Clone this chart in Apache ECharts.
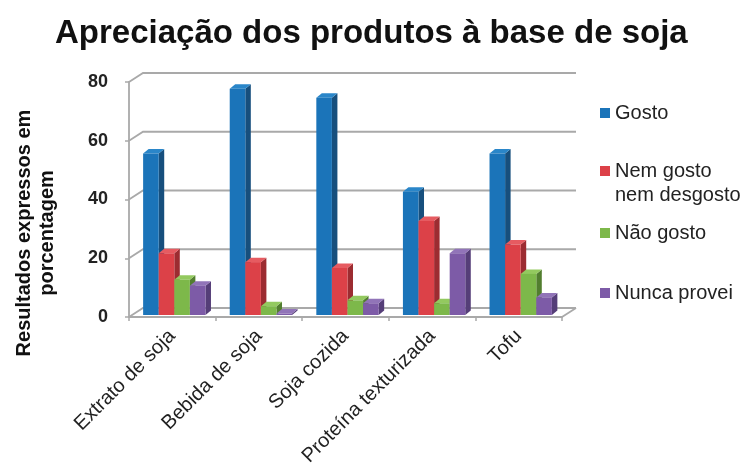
<!DOCTYPE html>
<html>
<head>
<meta charset="utf-8">
<script src="https://cdn.jsdelivr.net/npm/echarts@6/dist/echarts.min.js"></script>
<style>
  html, body { margin: 0; padding: 0; background: #fff; }
  #chart { width: 750px; height: 474px; }
</style>
</head>
<body>
<div id="chart"></div>
<script>
// Survey answers per soy product (percent of respondents)
const categories = ['Extrato de soja', 'Bebida de soja', 'Soja cozida', 'Proteína texturizada', 'Tofu'];
const seriesNames = ['Gosto', 'Nem gosto nem desgosto', 'Não gosto', 'Nunca provei'];
const gosto = [55, 77, 74, 42, 55];
const nemGosto = [21, 18, 16, 32, 24];
const naoGosto = [12, 3, 5, 4, 14];
const nuncaProvei = [10, 0.5, 4, 21, 6];
const yTicks = { min: 0, max: 80, interval: 20 };
const gridValues = [0, 20, 40, 60, 80];

const values = [gosto, nemGosto, naoGosto, nuncaProvei];

// Face colours for the prism-like columns: front, right side, top
const palette = [
  { front: '#1b74b9', side: '#174f7d', top: '#2a86c9' },
  { front: '#dc4148', side: '#9c2c31', top: '#e65b61' },
  { front: '#7db84a', side: '#527e2f', top: '#93c95f' },
  { front: '#7d5ba7', side: '#553e78', top: '#9174b8' }
];

// Pseudo-3D geometry (pixels)
const WALL_DX = 14, WALL_DY = 9;    // offset of the back wall
const BAR_DX = 5.5, BAR_DY = 4.5;   // column depth
const BAR_SHIFT_X = 2, BAR_SHIFT_Y = -2;
const BAR_FRAC = 0.18;              // column width as a share of the category band
const GRID_COLOR = '#a9a9a9';

function columnRenderer(si) {
  return function (params, api) {
    const cat = api.value(0);
    const val = api.value(1);
    const base = api.coord([cat, 0]);
    const top = api.coord([cat, val]);
    const band = api.size([1, 0])[0];
    const w = band * BAR_FRAC;
    const x0 = base[0] + (si - 2) * w + BAR_SHIFT_X;
    const x1 = x0 + w;
    const yb = base[1] + BAR_SHIFT_Y;
    const yt = top[1] + BAR_SHIFT_Y;
    const c = palette[si];
    return {
      type: 'group',
      children: [
        { type: 'polygon', shape: { points: [[x1, yt], [x1 + BAR_DX, yt - BAR_DY], [x1 + BAR_DX, yb - BAR_DY], [x1, yb]] },
          style: { fill: c.side } },
        { type: 'polygon', shape: { points: [[x0, yt], [x0 + BAR_DX, yt - BAR_DY], [x1 + BAR_DX, yt - BAR_DY], [x1, yt]] },
          style: { fill: c.top } },
        { type: 'rect', shape: { x: x0, y: yt, width: w, height: yb - yt },
          style: { fill: c.front } }
      ]
    };
  };
}

// Back wall / left wall / floor lines for each value level
function wallRenderer(params, api) {
  const cs = params.coordSys;
  const v = api.value(1);
  const y = api.coord([0, v])[1];
  const left = cs.x, right = cs.x + cs.width;
  const lines = [
    { type: 'polyline', shape: { points: [[left, y], [left + WALL_DX, y - WALL_DY], [right + WALL_DX, y - WALL_DY]] },
      style: { stroke: GRID_COLOR, lineWidth: 1.8, fill: null } }
  ];
  if (v === 0) {
    lines.push({ type: 'line', shape: { x1: right, y1: y, x2: right + WALL_DX, y2: y - WALL_DY },
      style: { stroke: GRID_COLOR, lineWidth: 1.8 } });
  }
  return { type: 'group', children: lines };
}

const series = [{
  type: 'custom',
  name: 'wall',
  silent: true,
  renderItem: wallRenderer,
  data: gridValues.map(v => [0, v]),
  encode: { x: 0, y: 1 },
  z: 1
}];
values.forEach((arr, si) => {
  series.push({
    type: 'custom',
    name: seriesNames[si],
    renderItem: columnRenderer(si),
    itemStyle: { color: palette[si].front },
    data: arr.map((v, i) => [i, v]),
    encode: { x: 0, y: 1 },
    z: 2
  });
});

// One legend block per entry so each sits where it belongs
const legendCentres = [113, 171, 233, 293];
const legendText = { fontSize: 20, color: '#222', fontFamily: 'Liberation Sans, Arial, sans-serif', lineHeight: 24 };
const legends = seriesNames.map((name, i) => ({
  data: [name],
  left: 600,
  top: legendCentres[i] - (i === 1 ? 36 : 12),
  icon: 'rect',
  itemWidth: 10,
  itemHeight: 10,
  itemGap: 0,
  padding: 0,
  selectedMode: false,
  textStyle: legendText,
  formatter: n => (n === 'Nem gosto nem desgosto' ? '\nNem gosto\nnem desgosto' : n)
}));

const chart = echarts.init(document.getElementById('chart'), null, { renderer: 'canvas' });
chart.setOption({
  animation: false,
  backgroundColor: '#fff',
  title: {
    text: 'Apreciação dos produtos à base de soja',
    left: 50,
    top: 12,
    textStyle: { fontSize: 33, fontWeight: 'bold', color: '#111', fontFamily: 'Liberation Sans, Arial, sans-serif' }
  },
  legend: legends,
  grid: { left: 129, right: 188, top: 82, bottom: 157, containLabel: false },
  xAxis: {
    type: 'category',
    data: categories,
    boundaryGap: true,
    axisLine: { lineStyle: { color: GRID_COLOR, width: 1.8 } },
    axisTick: { show: true, length: 4, lineStyle: { color: GRID_COLOR, width: 1.5 } },
    axisLabel: { rotate: 45, margin: 16, fontSize: 20, color: '#222', fontFamily: 'Liberation Sans, Arial, sans-serif' },
    splitLine: { show: false }
  },
  yAxis: {
    type: 'value',
    min: yTicks.min,
    max: yTicks.max,
    interval: yTicks.interval,
    axisLine: { show: true, lineStyle: { color: GRID_COLOR, width: 1.8 } },
    axisTick: { show: true, length: 4, lineStyle: { color: GRID_COLOR, width: 1.5 } },
    axisLabel: { margin: 21, fontSize: 18, fontWeight: 'bold', color: '#222', fontFamily: 'Liberation Sans, Arial, sans-serif' },
    splitLine: { show: false }
  },
  graphic: [{
    type: 'text',
    x: 36,
    y: 233,
    rotation: Math.PI / 2,
    style: {
      text: 'Resultados expressos em\nporcentagem',
      align: 'center',
      verticalAlign: 'middle',
      fontSize: 20,
      fontWeight: 'bold',
      lineHeight: 23,
      fill: '#111',
      fontFamily: 'Liberation Sans, Arial, sans-serif'
    }
  }],
  series: series
});
</script>
</body>
</html>
